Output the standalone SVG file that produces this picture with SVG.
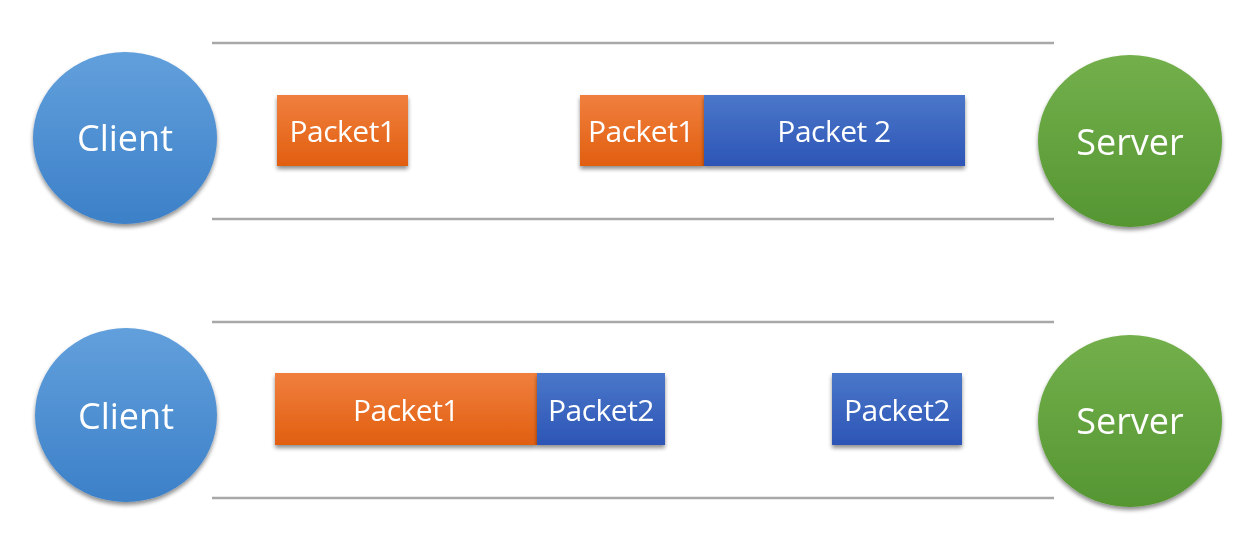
<svg xmlns="http://www.w3.org/2000/svg" width="1238" height="536" viewBox="0 0 1238 536">
<defs>
<linearGradient id="gBlue" x1="0" y1="0" x2="0" y2="1"><stop offset="0" stop-color="#62a0dc"/><stop offset="1" stop-color="#3c80c8"/></linearGradient>
<linearGradient id="gGreen" x1="0" y1="0" x2="0" y2="1"><stop offset="0" stop-color="#73b04c"/><stop offset="1" stop-color="#559632"/></linearGradient>
<linearGradient id="gOrange" x1="0" y1="0" x2="0" y2="1"><stop offset="0" stop-color="#f07f3e"/><stop offset="1" stop-color="#e15f10"/></linearGradient>
<linearGradient id="gPBlue" x1="0" y1="0" x2="0" y2="1"><stop offset="0" stop-color="#4a77c9"/><stop offset="1" stop-color="#2d55b6"/></linearGradient>
<filter id="sh" x="-10%" y="-10%" width="120%" height="130%"><feGaussianBlur in="SourceAlpha" stdDeviation="2"/><feOffset dx="0" dy="3"/><feComponentTransfer><feFuncA type="linear" slope="0.45"/></feComponentTransfer><feMerge><feMergeNode/><feMergeNode in="SourceGraphic"/></feMerge></filter>
</defs>
<style>
.ln{stroke:#a8a8a8;stroke-width:2.5;fill:none}
.t{font-family:"Open Sans","Liberation Sans",sans-serif;fill:#ffffff;text-anchor:middle;dominant-baseline:central}
.big{font-size:36px}
.pk{font-size:30px;letter-spacing:-0.5px}
</style>
<rect width="1238" height="536" fill="#ffffff"/>
<g id="connectors">
<line class="ln" x1="212" y1="43" x2="1054" y2="43"/>
<line class="ln" x1="212" y1="219" x2="1054" y2="219"/>
<line class="ln" x1="212" y1="322" x2="1054" y2="322"/>
<line class="ln" x1="212" y1="498" x2="1054" y2="498"/>
</g>
<g id="client1" filter="url(#sh)"><ellipse cx="125" cy="138" rx="92" ry="86" fill="url(#gBlue)"/><text class="t big" x="125" y="137">Client</text></g>
<g id="server1" filter="url(#sh)"><ellipse cx="1130" cy="141" rx="92" ry="86" fill="url(#gGreen)"/><text class="t big" x="1130" y="141">Server</text></g>
<g id="client2" filter="url(#sh)"><ellipse cx="126" cy="415" rx="91" ry="87" fill="url(#gBlue)"/><text class="t big" x="126" y="415">Client</text></g>
<g id="server2" filter="url(#sh)"><ellipse cx="1130" cy="421" rx="92" ry="86" fill="url(#gGreen)"/><text class="t big" x="1130" y="420">Server</text></g>
<g id="p1a" filter="url(#sh)"><rect x="277" y="95" width="131" height="71" fill="url(#gOrange)"/><text class="t pk" x="342.5" y="130">Packet1</text></g>
<g id="p1b" filter="url(#sh)"><rect x="580" y="95" width="124" height="71" fill="url(#gOrange)"/><text class="t pk" x="641" y="130">Packet1</text></g>
<g id="p2a" filter="url(#sh)"><rect x="704" y="95" width="261" height="71" fill="url(#gPBlue)"/><text class="t pk" x="834" y="130">Packet 2</text></g>
<g id="p1c" filter="url(#sh)"><rect x="275" y="373" width="262" height="72" fill="url(#gOrange)"/><text class="t pk" x="406" y="409">Packet1</text></g>
<g id="p2b" filter="url(#sh)"><rect x="537" y="373" width="128" height="72" fill="url(#gPBlue)"/><text class="t pk" x="601" y="409">Packet2</text></g>
<g id="p2c" filter="url(#sh)"><rect x="832" y="373" width="130" height="72" fill="url(#gPBlue)"/><text class="t pk" x="897" y="409">Packet2</text></g>
</svg>
